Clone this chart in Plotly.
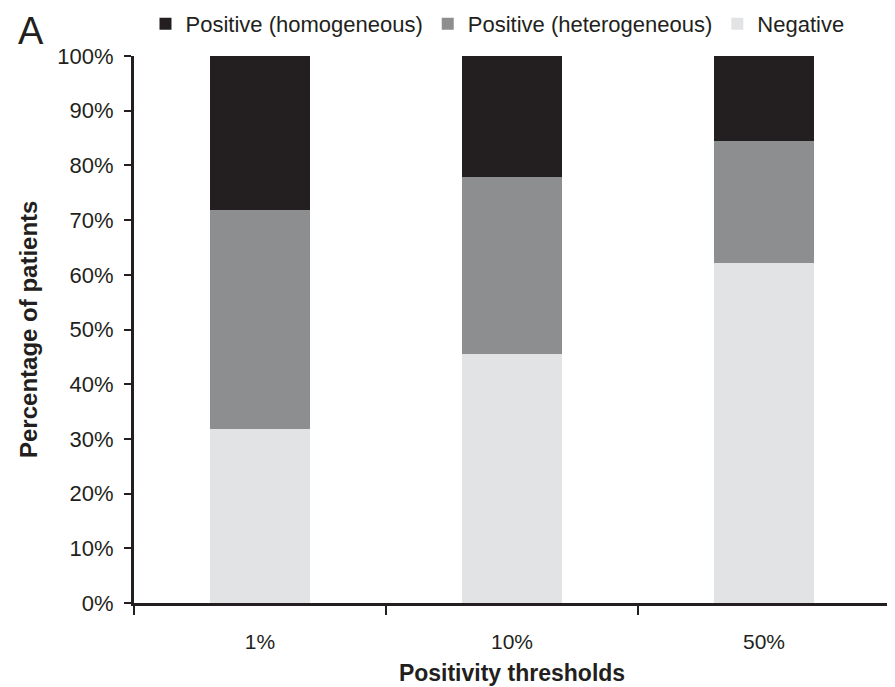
import plotly.graph_objects as go

categories = ["1%", "10%", "50%"]
negative = [31.9, 45.6, 62.2]
heterogeneous = [40.0, 32.3, 22.3]
homogeneous = [28.1, 22.1, 15.5]

series_names = ["Negative", "Positive (heterogeneous)", "Positive (homogeneous)"]
series_values = [negative, heterogeneous, homogeneous]
series_colors = ["#e2e3e5", "#8d8e90", "#231f20"]

FONT = "Arial, 'Liberation Sans', Helvetica, sans-serif"
INK = "#231f20"

fig = go.Figure()
for name, vals, col in zip(series_names, series_values, series_colors):
    fig.add_trace(go.Bar(
        x=categories, y=vals, name=name,
        marker=dict(color=col, line=dict(width=0)),
        hoverinfo="x+y+name",
    ))

fig.update_layout(
    width=887, height=679,
    barmode="stack",
    bargap=0.6,
    paper_bgcolor="white",
    plot_bgcolor="white",
    margin=dict(l=126, r=5, t=48, b=84, autoexpand=False),
    font=dict(family=FONT, color=INK, size=21),
    showlegend=True,
    legend=dict(
        orientation="h", traceorder="reversed",
        x=0.0152, xanchor="left", xref="paper",
        y=1 - 16 / 679, yanchor="middle", yref="container",
        font=dict(size=22, family=FONT, color=INK),
        itemwidth=30,
        bgcolor="rgba(0,0,0,0)",
    ),
    xaxis=dict(
        type="category",
        range=[-0.5, 2.5],
        showline=True, linecolor=INK, linewidth=3,
        ticks="outside", tickson="boundaries", ticklen=9, tickwidth=2, tickcolor=INK,
        ticklabelstandoff=18,
        tickfont=dict(size=21, family=FONT, color=INK),
        showgrid=False, zeroline=False,
        title=dict(text="<b>Positivity thresholds</b>", font=dict(size=23, family=FONT, color=INK), standoff=13),
        fixedrange=True,
    ),
    yaxis=dict(
        range=[0, 100],
        dtick=10, tick0=0, ticksuffix="%",
        showline=True, linecolor=INK, linewidth=3,
        ticks="outside", ticklen=7, tickwidth=2, tickcolor=INK,
        ticklabelstandoff=6,
        tickfont=dict(size=22, family=FONT, color=INK),
        showgrid=False, zeroline=False,
        fixedrange=True,
    ),
)

# y-axis title
fig.add_annotation(
    text="<b>Percentage of patients</b>", xref="paper", yref="paper",
    x=(28.5 - 134) / 756, y=0.5, textangle=-90,
    xanchor="center", yanchor="middle", showarrow=False,
    font=dict(size=24, family=FONT, color=INK),
)

# panel label
fig.add_annotation(
    text="A", xref="paper", yref="paper",
    x=(17 - 134) / 756, y=1 + 47 / 547,
    xanchor="left", yanchor="top", showarrow=False, borderpad=0,
    font=dict(size=38, family=FONT, color=INK),
)

fig.write_html("out.html")
